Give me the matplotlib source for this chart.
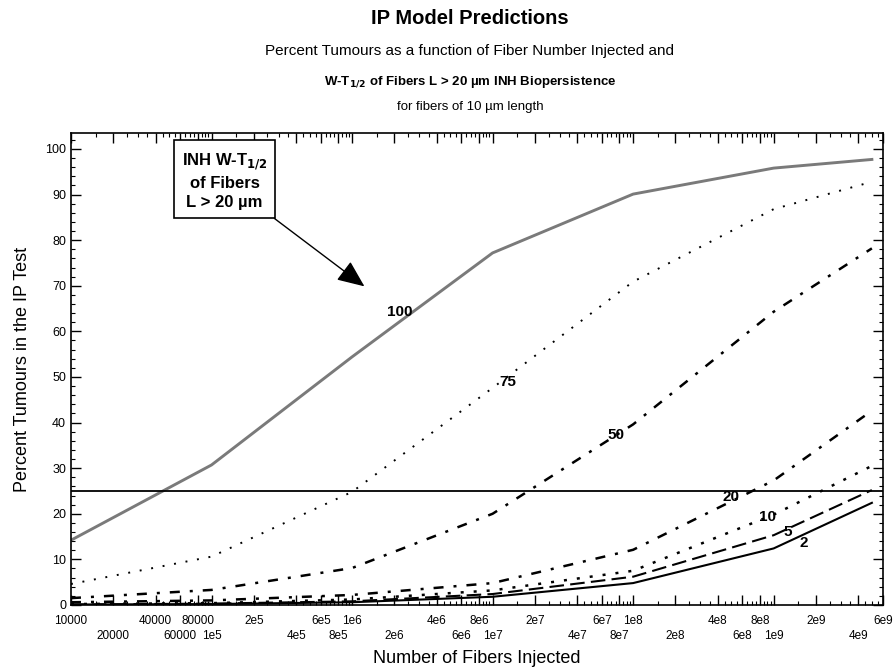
import numpy as np
import matplotlib.pyplot as plt
from matplotlib.ticker import FixedLocator, NullFormatter

plt.rcParams['font.family'] = ['Liberation Sans', 'DejaVu Sans']

# fibers injected (x) and percent tumours for each INH W-T1/2 curve
fibers = [1e4, 1e5, 1e6, 1e7, 1e8, 1e9, 5e9]
tumours_100 = [14.2, 30.7, 54.4, 77.2, 90.1, 95.8, 97.7]
tumours_75 = [4.6, 10.6, 24.8, 47.6, 70.9, 86.8, 92.8]
tumours_50 = [1.5, 3.3, 8.1, 20.0, 39.6, 64.3, 78.2]
tumours_20 = [0.6, 1.0, 2.2, 4.8, 12.1, 27.3, 42.6]
tumours_10 = [0.2, 0.4, 1.2, 3.2, 7.5, 19.8, 30.5]
tumours_5 = [0.1, 0.3, 0.8, 2.4, 6.2, 15.3, 25.2]
tumours_2 = [0.1, 0.2, 0.6, 1.8, 4.8, 12.4, 22.4]
threshold = 25

curve_names = ['100', '75', '50', '20', '10', '5', '2']
# where each curve name is written (x, y)
label_x = [2.2e6, 1.28e7, 7.6e7, 5.0e8, 9.0e8, 1.25e9, 1.65e9]
label_y = [64.3, 48.9, 37.3, 23.7, 19.3, 16.0, 13.6]

tick_vals = []
for k in range(4, 10):
    for m in [1, 2, 4, 6, 8]:
        v = m * 10 ** k
        if v <= 6e9:
            tick_vals.append(v)


def tick_text(v):
    k = int(np.floor(np.log10(v) + 1e-9))
    m = int(round(v / 10 ** k))
    if v < 1e5:
        return str(int(v))
    return f"{m}e{k}"


fig = plt.figure(figsize=(8.95, 6.71), dpi=100)
ax = fig.add_axes([0.0793, 0.0984, 0.9073, 0.7034])

series = [tumours_100, tumours_75, tumours_50, tumours_20,
          tumours_10, tumours_5, tumours_2]
styles = [
    dict(color='#7a7a7a', lw=2.1, ls='-'),
    dict(color='black', lw=1.4, ls=(0, (1, 5))),
    dict(color='black', lw=1.8, ls=(0, (4, 4, 1.2, 4))),
    dict(color='black', lw=1.8, ls=(0, (4, 4, 1.2, 4))),
    dict(color='black', lw=1.8, ls=(0, (1.2, 4))),
    dict(color='black', lw=1.5, ls=(0, (7, 3))),
    dict(color='black', lw=1.5, ls='-'),
]
for vals, st in zip(series, styles):
    ax.plot(fibers, vals, **st)

ax.axhline(threshold, color='black', lw=1.3)

for name, lx, ly in zip(curve_names, label_x, label_y):
    ax.text(lx, ly, name, ha='center', va='center', fontsize=11,
            fontweight='bold')

ax.annotate('INH W-T$_{\\mathbf{1/2}}$\nof Fibers\nL > 20 µm',
            xy=(1.27e6, 69.5), xytext=(1.24e5, 93.0),
            ha='center', va='center', fontsize=12, fontweight='bold',
            linespacing=1.35,
            bbox=dict(boxstyle='square,pad=0.45', fc='white', ec='black', lw=1.2),
            arrowprops=dict(arrowstyle='-|>,head_length=1.4,head_width=0.6',
                            color='black', lw=1.0, shrinkA=0))

ax.set_xscale('log')
ax.set_xlim(1e4, 6e9)
ax.set_ylim(0, 103.5)

ax.xaxis.set_major_locator(FixedLocator(tick_vals))
ax.set_xticklabels([tick_text(v) for v in tick_vals])
minor = [m * 10 ** k for k in range(4, 10) for m in np.arange(1, 10, 0.5)
         if m * 10 ** k <= 6e9]
ax.xaxis.set_minor_locator(FixedLocator(minor))
ax.xaxis.set_minor_formatter(NullFormatter())

ax.set_yticks(np.arange(0, 101, 10))
ax.set_yticks(np.arange(0, 103, 2), minor=True)

ax.tick_params(which='both', direction='in', top=True, right=True)
ax.tick_params(axis='y', labelsize=9)
ax.tick_params(axis='x', labelsize=8.5)
ax.tick_params(which='major', length=7, width=1)
ax.tick_params(which='minor', length=3, width=0.8)
for s in ax.spines.values():
    s.set_linewidth(1.2)

# staggered x tick labels: every other label on a second row
for i, t in enumerate(ax.xaxis.get_major_ticks()):
    t.set_pad(7 if i % 2 == 0 else 18)

ax.set_xlabel('Number of Fibers Injected', fontsize=13, labelpad=6)
ax.set_ylabel('Percent Tumours in the IP Test', fontsize=13, labelpad=10)

fig.text(0.525, 1 - 18 / 671, 'IP Model Predictions', ha='center',
         va='center', fontsize=14.5, fontweight='bold')
fig.text(0.525, 1 - 51 / 671,
         'Percent Tumours as a function of Fiber Number Injected and',
         ha='center', va='center', fontsize=11)
fig.text(0.525, 1 - 82 / 671,
         'W-T$_{\\mathbf{1/2}}$ of Fibers L > 20 µm INH Biopersistence',
         ha='center', va='center', fontsize=9.5, fontweight='bold')
fig.text(0.525, 1 - 107 / 671, 'for fibers of 10 µm length', ha='center',
         va='center', fontsize=9.5)

fig.savefig('out.png', dpi=100)
